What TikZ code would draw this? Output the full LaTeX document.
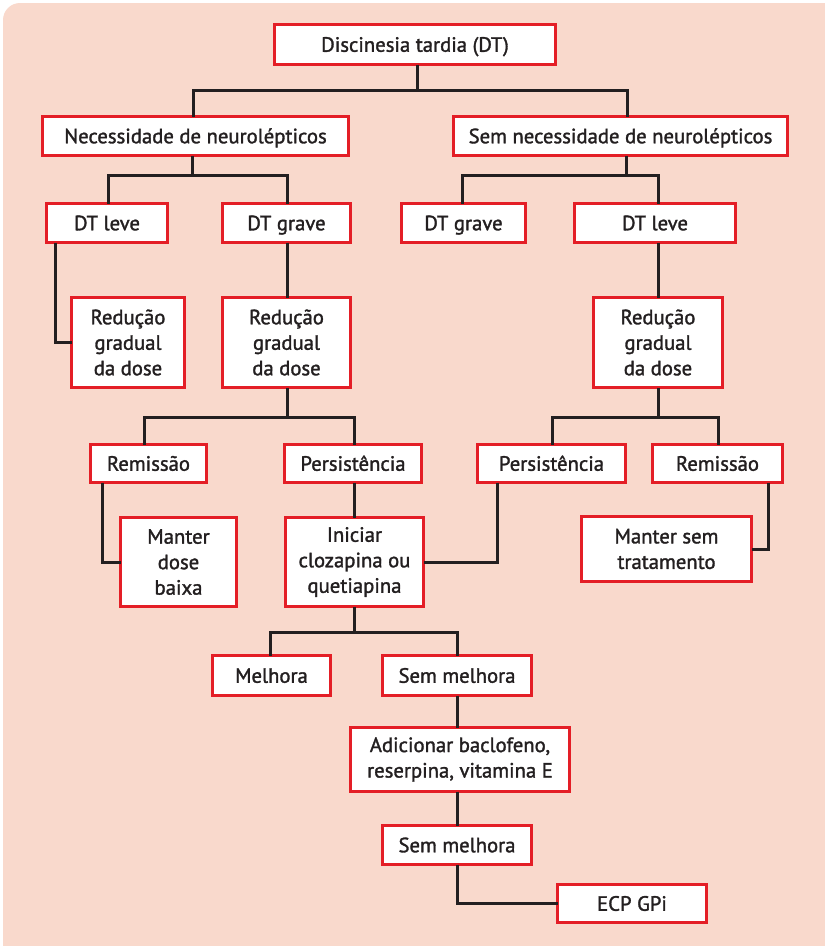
\documentclass[tikz,border=0pt]{standalone}
\usepackage{fontspec}
\setmainfont{PT Sans}[FakeBold=1.5]
\definecolor{bgpink}{RGB}{249,217,204}
\definecolor{boxred}{RGB}{228,30,38}
\definecolor{ink}{RGB}{35,31,32}
\tikzset{
  box/.style={draw=boxred, line width=3pt, fill=white, inner sep=0pt, outer sep=0pt,
    align=center, text=ink, font=\fontsize{20.7}{25.5}\selectfont},
  oneline/.style={text height=14.5pt, text depth=0pt},
  link/.style={draw=ink, line width=3pt}
}
% box given by its outer edges: name, x1, y1, x2, y2, extra style, text
\newcommand\flowbox[7]{%
  \node[box, #6, minimum width={((#4)-(#2)-3)*1pt}, minimum height={((#5)-(#3)-3)*1pt}]
    (#1) at ({((#2)+(#4))/2},{((#3)+(#5))/2}) {#7};}
\begin{document}
\begin{tikzpicture}[x=1pt, y=-1pt]
\useasboundingbox (0,0) rectangle (825,946);
\fill[bgpink] (3,946) -- (3,20) arc[start angle=180, end angle=270, radius=17] -- (825,3) -- (825,946) -- cycle;

\flowbox{dt}{273}{23}{557}{66}{oneline}{Discinesia tardia (DT)}
\flowbox{nec}{41}{115}{350}{157}{oneline}{Necessidade de neurolépticos}
\flowbox{sem}{452}{115}{789}{157}{oneline}{Sem necessidade de neurolépticos}
\flowbox{leveL}{45}{202}{169}{244}{oneline}{DT leve}
\flowbox{graveL}{221}{202}{352}{244}{oneline}{DT grave}
\flowbox{graveR}{400}{202}{527}{244}{oneline}{DT grave}
\flowbox{leveR}{573}{202}{737}{244}{oneline}{DT leve}
\flowbox{redL}{70}{296}{186}{389}{}{Redução\\gradual\\da dose}
\flowbox{redM}{221}{296}{352}{389}{}{Redução\\gradual\\da dose}
\flowbox{redR}{592}{296}{724}{389}{}{Redução\\gradual\\da dose}
\flowbox{remL}{89}{443}{208}{484}{oneline}{Remissão}
\flowbox{persL}{283}{443}{423}{484}{oneline}{Persistência}
\flowbox{persR}{476}{443}{627}{484}{oneline}{Persistência}
\flowbox{remR}{651}{443}{784}{484}{oneline}{Remissão}
\flowbox{mdb}{119}{516}{238}{608}{}{Manter\\dose\\baixa}
\flowbox{inic}{284}{516}{425}{608}{}{Iniciar\\clozapina ou\\quetiapina}
\flowbox{msem}{580}{515}{753}{583}{}{Manter sem\\tratamento}
\flowbox{mel}{211}{654}{332}{697}{oneline}{Melhora}
\flowbox{sm1}{381}{654}{533}{697}{oneline}{Sem melhora}
\flowbox{adic}{349}{726}{571}{793}{}{Adicionar baclofeno,\\reserpina, vitamina E}
\flowbox{sm2}{381}{824}{533}{866}{oneline}{Sem melhora}
\flowbox{ecp}{556}{883}{708}{924}{oneline}{ECP GPi}

% first split
\draw[link] (dt.south -| 417,0) -- (417,90);
\draw[link] (nec.north -| 193,0) |- (417,90) -| (sem.north -| 627,0);
% left branch
\draw[link] (nec.south -| 192,0) -- (192,175);
\draw[link] (leveL.north -| 108,0) |- (192,175) -| (graveL.north -| 287,0);
\draw[link] (leveL.south -| 55,0) |- (redL.west);
\draw[link] (graveL.south -| 287,0) -- (redM.north -| 287,0);
\draw[link] (redM.south -| 287,0) -- (287,417);
\draw[link] (remL.north -| 144,0) |- (287,417) -| (persL.north -| 354,0);
\draw[link] (remL.south -| 102,0) |- (mdb.west);
\draw[link] (persL.south -| 354,0) -- (inic.north -| 354,0);
% right branch
\draw[link] (sem.south -| 626,0) -- (626,175);
\draw[link] (graveR.north -| 462,0) |- (626,175) -| (leveR.north -| 658,0);
\draw[link] (leveR.south -| 658,0) -- (redR.north -| 658,0);
\draw[link] (redR.south -| 658,0) -- (658,417);
\draw[link] (persR.north -| 552,0) |- (658,417) -| (remR.north -| 718,0);
\draw[link] (persR.south -| 497,0) |- (inic.east);
\draw[link] (remR.south -| 768,0) |- (msem.east);
% lower chain
\draw[link] (inic.south -| 354,0) -- (354,632);
\draw[link] (mel.north -| 270,0) |- (354,632) -| (sm1.north -| 457,0);
\draw[link] (sm1.south -| 457,0) -- (adic.north -| 457,0);
\draw[link] (adic.south -| 457,0) -- (sm2.north -| 457,0);
\draw[link] (sm2.south -| 457,0) |- (ecp.west);
\end{tikzpicture}
\end{document}
